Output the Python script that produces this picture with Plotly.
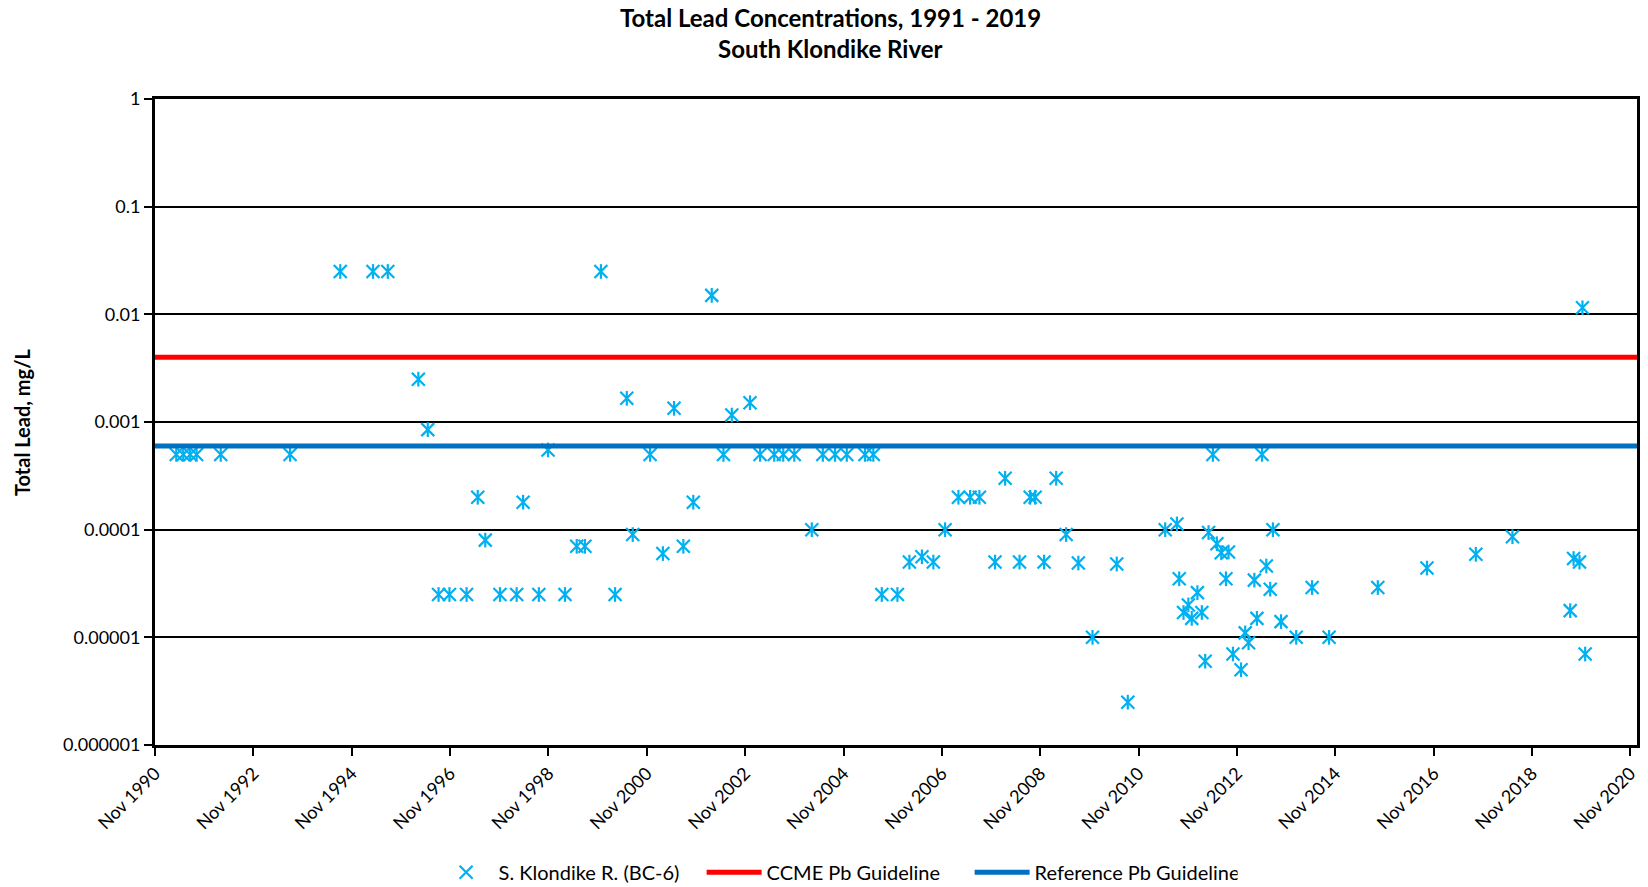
import plotly.graph_objects as go

# Sampling dates and total lead results, S. Klondike R. (BC-6)
sample_dates = [
    "1991-04-08", "1991-05-30", "1991-07-20", "1991-09-06", "1992-03-03", "1993-07-31",
    "1994-08-08", "1995-04-08", "1995-07-27", "1996-03-10", "1996-05-19", "1996-08-07",
    "1996-10-27", "1997-03-03", "1997-05-25", "1997-07-20", "1997-11-06", "1998-03-10",
    "1998-04-27", "1998-08-22", "1998-10-29", "1999-03-04", "1999-05-30", "1999-07-30",
    "1999-11-26", "2000-03-10", "2000-06-05", "2000-07-19", "2000-11-25", "2001-02-28",
    "2001-05-22", "2001-07-30", "2001-10-12", "2002-02-26", "2002-05-24", "2002-07-25",
    "2002-12-07", "2003-02-20", "2003-06-05", "2003-08-11", "2003-11-01", "2004-03-10",
    "2004-05-31", "2004-08-30", "2004-11-25", "2005-04-09", "2005-06-10", "2005-08-12",
    "2005-12-06", "2006-03-05", "2006-06-06", "2006-08-30", "2006-11-25", "2007-03-04",
    "2007-05-30", "2007-08-07", "2007-12-01", "2008-02-14", "2008-05-31", "2008-08-18",
    "2008-09-24", "2008-11-29", "2009-02-27", "2009-05-12", "2009-08-11", "2009-11-24",
    "2010-05-23", "2010-08-13", "2011-05-18", "2011-08-13", "2011-08-30", "2011-10-01",
    "2011-11-06", "2011-12-01", "2012-01-12", "2012-02-14", "2012-03-10", "2012-04-04",
    "2012-05-06", "2012-06-05", "2012-07-07", "2012-08-11", "2012-08-30", "2012-10-02",
    "2012-12-01", "2013-01-01", "2013-01-26", "2013-03-10", "2013-03-29", "2013-05-06",
    "2013-06-07", "2013-07-06", "2013-07-26", "2013-09-24", "2014-01-15", "2014-05-13",
    "2014-09-16", "2015-09-13", "2016-09-12", "2017-09-10", "2018-06-09", "2019-08-12",
    "2019-09-06", "2019-10-20", "2019-11-11", "2019-12-01",
]
lead_mg_per_l = [
    0.0005, 0.0005, 0.0005, 0.0005, 0.0005, 0.0005,
    0.025, 0.025, 0.025, 0.0025, 0.00085, 0.000025,
    0.000025, 0.000025, 0.0002, 0.00008, 0.000025, 0.000025,
    0.00018, 0.000025, 0.00055, 0.000025, 0.00007, 0.00007,
    0.025, 0.000025, 0.00166, 0.00009, 0.0005, 0.00006,
    0.00134, 0.00007, 0.00018, 0.015, 0.0005, 0.00116,
    0.00151, 0.0005, 0.0005, 0.0005, 0.0005, 0.0001,
    0.0005, 0.0005, 0.0005, 0.0005, 0.0005, 0.000025,
    0.000025, 0.00005, 0.000056, 0.00005, 0.0001, 0.0002,
    0.0002, 0.0002, 0.00005, 0.0003, 0.00005, 0.0002,
    0.0002, 0.00005, 0.0003, 0.00009, 0.000049, 0.00001,
    0.000048, 0.0000025, 0.0001, 0.000113, 0.000035, 0.000017,
    0.00002, 0.000015, 0.000026, 0.000017, 0.000006, 0.000094,
    0.0005, 0.000074, 0.000061, 0.000035, 0.000062, 0.000007,
    0.000005, 0.000011, 0.0000089, 0.000034, 0.000015, 0.0005,
    0.000046, 0.000028, 0.0001, 0.000014, 0.00001, 0.000029,
    0.00001, 0.000029, 0.000044, 0.000059, 0.000086, 0.0000177,
    0.000054, 0.00005, 0.0115, 0.000007,
]

# Guideline values (mg/L)
ccme_pb_guideline = 0.004
reference_pb_guideline = 0.0006

# Axis extents and tick labels
date_start = "1990-11-01"
date_end = "2020-12-20"
y_tick_values = [1, 0.1, 0.01, 0.001, 0.0001, 0.00001, 0.000001]
y_tick_labels = ["1", "0.1", "0.01", "0.001", "0.0001", "0.00001", "0.000001"]

FONT = "Lato"
POINT_COLOR = "#00B0F0"

fig = go.Figure()

# Asterisk marker built from an X plus a vertical stroke
fig.add_trace(go.Scatter(
    x=sample_dates, y=lead_mg_per_l, mode="markers",
    name="S. Klondike R. (BC-6)",
    marker=dict(symbol="x-thin-open", size=13, color=POINT_COLOR,
                line=dict(color=POINT_COLOR, width=2.2)),
))
fig.add_trace(go.Scatter(
    x=sample_dates, y=lead_mg_per_l, mode="markers",
    showlegend=False, hoverinfo="skip",
    marker=dict(symbol="line-ns-open", size=10.5, color=POINT_COLOR,
                line=dict(color=POINT_COLOR, width=2.2)),
))

fig.add_trace(go.Scatter(
    x=[date_start, date_end], y=[ccme_pb_guideline] * 2, mode="lines",
    name="CCME Pb Guideline", line=dict(color="#FF0000", width=5),
))
fig.add_trace(go.Scatter(
    x=[date_start, date_end], y=[reference_pb_guideline] * 2, mode="lines",
    name="Reference Pb Guideline", line=dict(color="#0070C0", width=5),
))

fig.update_layout(
    width=1648, height=887,
    margin=dict(l=155, r=11, t=99, b=142, autoexpand=False),
    paper_bgcolor="white", plot_bgcolor="white",
    font=dict(family=FONT, size=18, color="black"),
    showlegend=True,
    legend=dict(orientation="h", x=0.188, xanchor="left", y=-0.197, yanchor="middle",
                itemwidth=55, entrywidth=198, entrywidthmode="pixels",
                font=dict(family=FONT, size=20, color="black"), traceorder="normal"),
    xaxis=dict(
        type="date", range=[date_start, date_end],
        tick0=date_start, dtick="M24", tickformat="%b %Y", tickangle=-45,
        showgrid=False, showline=True, linecolor="black", linewidth=3, mirror=True,
        ticks="outside", ticklen=8, tickwidth=2, tickcolor="black",
        tickfont=dict(family=FONT, size=18, color="black"), zeroline=False,
        automargin=False,
    ),
    yaxis=dict(
        type="log", range=[-6, 0],
        tickmode="array", tickvals=y_tick_values, ticktext=y_tick_labels,
        showgrid=True, gridcolor="black", gridwidth=2,
        showline=True, linecolor="black", linewidth=3, mirror=True,
        ticks="outside", ticklen=8, tickwidth=2, tickcolor="black",
        tickfont=dict(family=FONT, size=18, color="black"), zeroline=False,
        automargin=False,
    ),
    annotations=[
        dict(text="<b>Total Lead Concentrations, 1991 - 2019</b>", xref="paper", yref="paper",
             x=0.456, y=1.1254, xanchor="center", yanchor="middle", showarrow=False,
             font=dict(family=FONT, size=24, color="black")),
        dict(text="<b>South Klondike River</b>", xref="paper", yref="paper",
             x=0.456, y=1.0774, xanchor="center", yanchor="middle", showarrow=False,
             font=dict(family=FONT, size=24, color="black")),
        dict(text="<b>Total Lead, mg/L</b>", xref="paper", yref="paper",
             x=-0.0897, y=0.5, xanchor="center", yanchor="middle", textangle=-90,
             showarrow=False, font=dict(family=FONT, size=20, color="black")),
    ],
)

fig.write_html("out.html")
